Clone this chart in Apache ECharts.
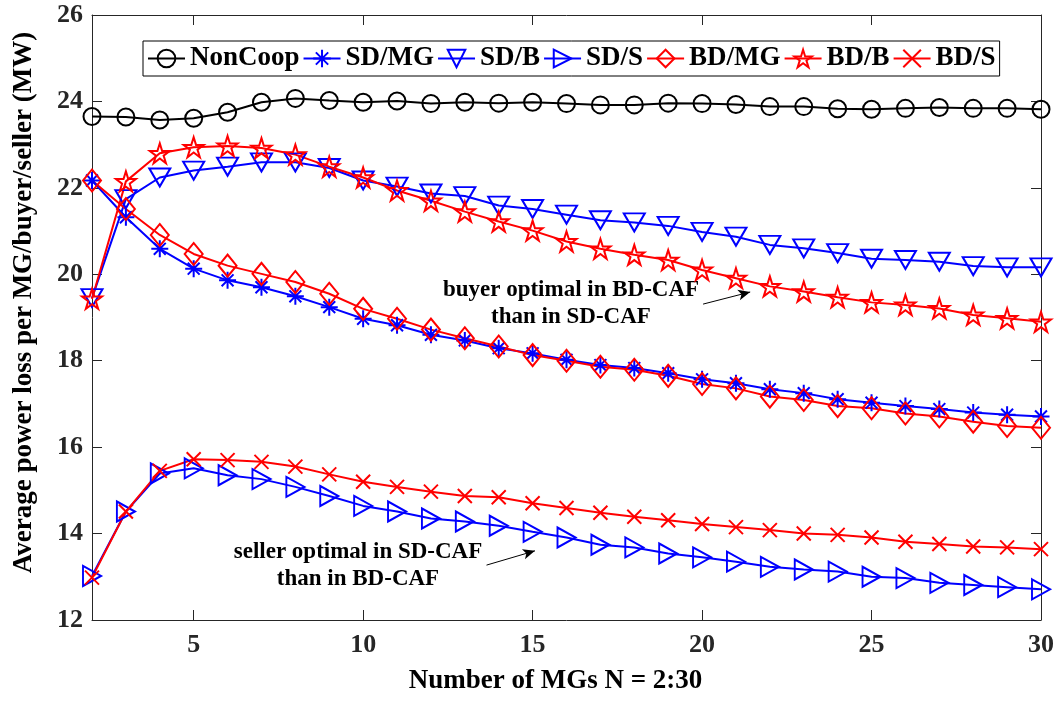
<!DOCTYPE html>
<html>
<head>
<meta charset="utf-8">
<script src="https://cdn.jsdelivr.net/npm/echarts@6/dist/echarts.min.js"></script>
<style>
	html, body { margin: 0; padding: 0; background: #fff; }
	#main { width: 1060px; height: 708px; }
</style>
</head>
<body>
<div id="main"></div>
<script>
// number of MGs
var ns = [2, 3, 4, 5, 6, 7, 8, 9, 10, 11, 12, 13, 14, 15, 16, 17, 18, 19, 20, 21, 22, 23, 24, 25, 26, 27, 28, 29, 30];

// average power loss (MW)
var nonCoop = [23.65, 23.64, 23.57, 23.61, 23.75, 23.98, 24.07, 24.02, 23.98, 24.01, 23.95, 23.98, 23.96, 23.98, 23.95, 23.92, 23.92, 23.96, 23.95, 23.93, 23.88, 23.88, 23.83, 23.82, 23.84, 23.86, 23.84, 23.84, 23.82];
var sdMG = [22.17, 21.32, 20.59, 20.13, 19.86, 19.70, 19.49, 19.24, 18.97, 18.82, 18.60, 18.47, 18.29, 18.17, 18.02, 17.90, 17.83, 17.71, 17.57, 17.48, 17.34, 17.25, 17.11, 17.03, 16.95, 16.88, 16.80, 16.75, 16.71];
var sdB = [19.45, 21.74, 22.24, 22.40, 22.49, 22.59, 22.59, 22.46, 22.17, 22.03, 21.87, 21.81, 21.59, 21.51, 21.38, 21.25, 21.20, 21.12, 20.98, 20.87, 20.68, 20.60, 20.49, 20.36, 20.33, 20.29, 20.19, 20.16, 20.16];
var sdS = [13.02, 14.51, 15.39, 15.51, 15.35, 15.26, 15.08, 14.87, 14.64, 14.51, 14.35, 14.28, 14.18, 14.04, 13.91, 13.74, 13.68, 13.54, 13.45, 13.35, 13.23, 13.17, 13.12, 13.00, 12.97, 12.86, 12.81, 12.76, 12.71];
var bdMG = [22.17, 21.51, 20.91, 20.47, 20.20, 20.01, 19.82, 19.55, 19.20, 18.97, 18.72, 18.52, 18.33, 18.13, 18.00, 17.86, 17.79, 17.65, 17.46, 17.36, 17.17, 17.09, 16.95, 16.90, 16.78, 16.71, 16.59, 16.49, 16.45];
var bdB = [19.43, 22.15, 22.80, 22.94, 22.97, 22.92, 22.77, 22.49, 22.24, 21.94, 21.70, 21.45, 21.22, 21.01, 20.76, 20.59, 20.45, 20.33, 20.10, 19.91, 19.72, 19.60, 19.47, 19.35, 19.29, 19.21, 19.06, 18.98, 18.90];
var bdS = [12.98, 14.51, 15.45, 15.72, 15.70, 15.66, 15.55, 15.37, 15.20, 15.08, 14.97, 14.87, 14.84, 14.70, 14.59, 14.48, 14.39, 14.31, 14.22, 14.15, 14.08, 14.00, 13.97, 13.91, 13.81, 13.76, 13.70, 13.68, 13.64];

var xTicks = [5, 10, 15, 20, 25, 30];

var FONT = 'Liberation Serif';
var AXIS_COLOR = '#262626';

// marker shapes (matlab style, outline only)
function starPath() {
	var pts = [];
	for (var i = 0; i < 10; i++) {
		var r = (i % 2 == 0) ? 10 : 3.82;
		var a = (-90 + i * 36) * Math.PI / 180;
		pts.push((10 + r * Math.cos(a)).toFixed(2) + ',' + (10 + r * Math.sin(a)).toFixed(2));
	}
	return 'path://M' + pts.join('L') + 'Z';
}
var MK_ASTER = 'path://M10,0L10,20M0,10L20,10M3,3L17,17M3,17L17,3';
var MK_TRI_DOWN = 'path://M0,0L22,0L11,19Z';
var MK_TRI_RIGHT = 'path://M0,0L19,10L0,20Z';
var MK_CROSS = 'path://M0,0L10,10M0,10L10,0';
var MK_STAR = starPath();

function pairs(ys) {
	var out = [];
	for (var i = 0; i < ns.length; i++) {
		out.push([ns[i], ys[i]]);
	}
	return out;
}

function makeSeries(name, ys, color, symbol, size) {
	return {
		name : name,
		type : 'line',
		data : pairs(ys),
		symbol : symbol,
		symbolSize : size,
		showAllSymbol : true,
		lineStyle : { color : color, width : 2 },
		itemStyle : { color : 'transparent', borderColor : color, borderWidth : 2 },
		emphasis : { disabled : true },
		z : 3
	};
}

var series = [
	makeSeries('NonCoop', nonCoop, '#000000', 'circle', 17),
	makeSeries('SD/MG', sdMG, '#0000ff', MK_ASTER, 17),
	makeSeries('SD/B', sdB, '#0000ff', MK_TRI_DOWN, [21, 18]),
	makeSeries('SD/S', sdS, '#0000ff', MK_TRI_RIGHT, [18, 20]),
	makeSeries('BD/MG', bdMG, '#ff0000', 'diamond', [18, 22]),
	makeSeries('BD/B', bdB, '#ff0000', MK_STAR, 20),
	makeSeries('BD/S', bdS, '#ff0000', MK_CROSS, 14)
];

// annotation arrows (data coordinates)
series[0].markLine = {
	silent : true,
	symbol : ['none', 'arrow'],
	symbolSize : [8, 12],
	label : { show : false },
	lineStyle : { color : '#000', width : 1, type : 'solid' },
	data : [
		[{ coord : [20.03, 19.31] }, { coord : [21.42, 19.59] }],
		[{ coord : [13.64, 13.27] }, { coord : [15.07, 13.60] }]
	]
};

var option = {
	animation : false,
	backgroundColor : '#fff',
	textStyle : { fontFamily : FONT },
	grid : { left : 92, right : 19, top : 15, bottom : 88, outerBoundsMode : 'none' },
	legend : {
		left : 143,
		top : 41,
		padding : [4, 4, 4, 4],
		itemWidth : 37,
		itemHeight : 22,
		itemGap : 3,
		borderColor : '#000',
		borderWidth : 1,
		backgroundColor : '#fff',
		selectedMode : false,
		textStyle : { fontFamily : FONT, fontWeight : 'bold', fontSize : 27, color : '#000' },
		data : ['NonCoop', 'SD/MG', 'SD/B', 'SD/S', 'BD/MG', 'BD/B', 'BD/S']
	},
	xAxis : [{
		type : 'value',
		min : 2,
		max : 30,
		name : 'Number of MGs N = 2:30',
		nameLocation : 'middle',
		nameGap : 48,
		nameTextStyle : { fontFamily : FONT, fontWeight : 'bold', fontSize : 27, color : '#000', padding : [0, 22, 0, 0] },
		axisLine : { show : true, lineStyle : { color : AXIS_COLOR, width : 1 } },
		axisTick : { show : true, inside : true, length : 10, customValues : xTicks, lineStyle : { color : AXIS_COLOR } },
		axisLabel : { customValues : xTicks, margin : 12, fontFamily : FONT, fontWeight : 'bold', fontSize : 26, color : '#262626' },
		splitLine : { show : false }
	}, {
		type : 'value',
		position : 'top',
		min : 2,
		max : 30,
		axisLine : { show : true, lineStyle : { color : AXIS_COLOR, width : 1 } },
		axisTick : { show : true, inside : true, length : 10, customValues : xTicks, lineStyle : { color : AXIS_COLOR } },
		axisLabel : { show : false },
		splitLine : { show : false }
	}],
	yAxis : [{
		type : 'value',
		min : 12,
		max : 26,
		interval : 2,
		name : 'Average power loss per MG/buyer/seller (MW)',
		nameLocation : 'middle',
		nameGap : 54,
		nameTextStyle : { fontFamily : FONT, fontWeight : 'bold', fontSize : 27, color : '#000', padding : [0, 0, 0, 30] },
		axisLine : { show : true, lineStyle : { color : AXIS_COLOR, width : 1 } },
		axisTick : { show : true, inside : true, length : 10, lineStyle : { color : AXIS_COLOR } },
		axisLabel : { margin : 9, fontFamily : FONT, fontWeight : 'bold', fontSize : 26, color : '#262626' },
		splitLine : { show : false }
	}, {
		type : 'value',
		position : 'right',
		min : 12,
		max : 26,
		interval : 2,
		axisLine : { show : true, lineStyle : { color : AXIS_COLOR, width : 1 } },
		axisTick : { show : true, inside : true, length : 10, lineStyle : { color : AXIS_COLOR } },
		axisLabel : { show : false },
		splitLine : { show : false }
	}],
	graphic : [{
		type : 'text',
		x : 571,
		y : 304,
		style : {
			text : 'buyer optimal in BD-CAF\nthan in SD-CAF',
			font : 'bold 23px "Liberation Serif"',
			fill : '#000',
			align : 'center',
			verticalAlign : 'middle',
			lineHeight : 27
		}
	}, {
		type : 'text',
		x : 358,
		y : 566,
		style : {
			text : 'seller optimal in SD-CAF\nthan in BD-CAF',
			font : 'bold 23px "Liberation Serif"',
			fill : '#000',
			align : 'center',
			verticalAlign : 'middle',
			lineHeight : 27
		}
	}],
	series : series
};

var chart = echarts.init(document.getElementById('main'), null, { renderer : 'canvas' });
chart.setOption(option);
</script>
</body>
</html>
